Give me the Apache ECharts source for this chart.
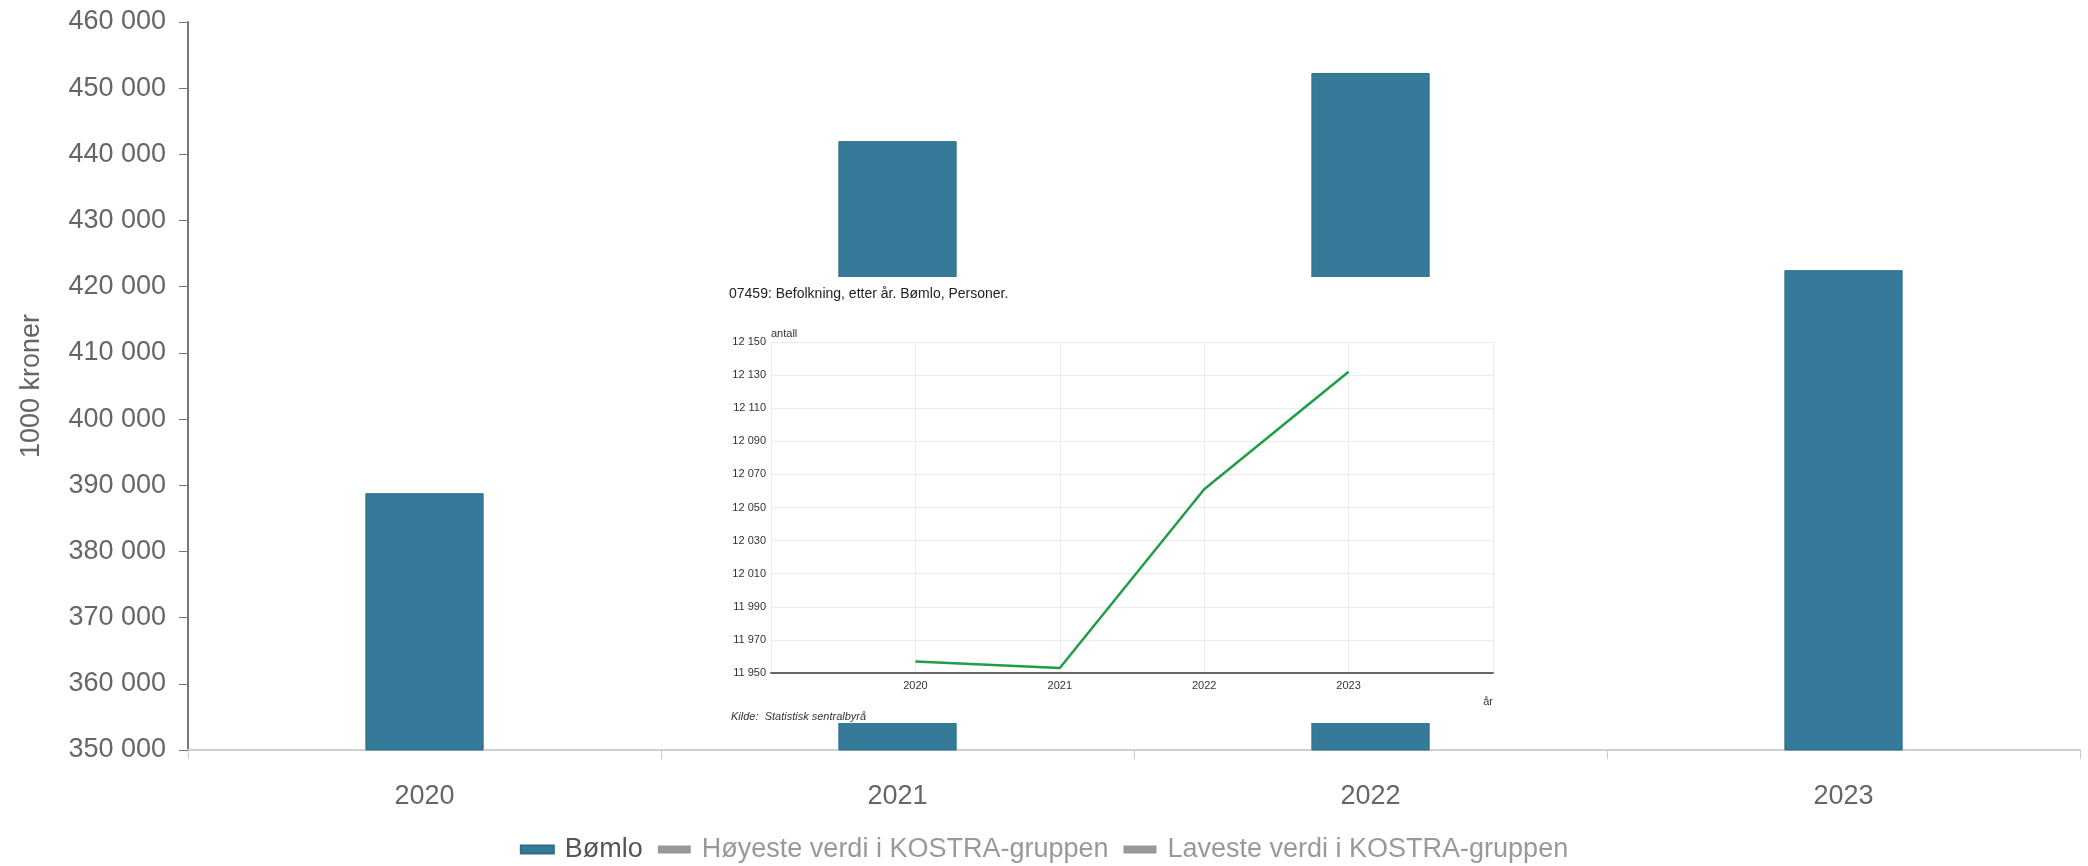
<!DOCTYPE html>
<html>
<head>
<meta charset="utf-8">
<script src="https://cdn.jsdelivr.net/npm/echarts@6/dist/echarts.min.js"></script>
<style>
html,body{margin:0;padding:0;background:#fff;}
#chart{width:2088px;height:866px;}
</style>
</head>
<body>
<div id="chart"></div>
<script>
// Main chart data
const categories = ['2020', '2021', '2022', '2023'];
const bomloValues = [388800, 442000, 452300, 422500];
const hoyesteValues = [];
const lavesteValues = [];
const seriesNames = ['Bømlo', 'Høyeste verdi i KOSTRA-gruppen', 'Laveste verdi i KOSTRA-gruppen'];
const yAxisTitle = '1000 kroner';

// Inset chart data (07459: Befolkning)
const insetTitle = '07459: Befolkning, etter år. Bømlo, Personer.';
const insetYears = [2020, 2021, 2022, 2023];
const insetPopulation = [11957, 11953, 12061, 12132];
const insetSource = 'Kilde:  Statistisk sentralbyrå';

const fmt = v => String(v).replace(/\B(?=(\d{3})+(?!\d))/g, ' ');
const FONT = '"Liberation Sans", Arial, sans-serif';

const chart = echarts.init(document.getElementById('chart'), null, {renderer: 'canvas'});

const option = {
  animation: false,
  backgroundColor: '#ffffff',
  textStyle: {fontFamily: FONT},
  title: [
    {text: insetTitle, left: 724, top: 282, z: 20,
     textStyle: {fontFamily: FONT, fontSize: 14, fontWeight: 'normal', color: '#222'}},
    {text: insetSource, left: 726, top: 706, z: 20,
     textStyle: {fontFamily: FONT, fontSize: 11, fontWeight: 'normal', fontStyle: 'italic', color: '#333'}}
  ],
  legend: {
    data: [
      {name: seriesNames[0], textStyle: {color: '#555'}},
      {name: seriesNames[1], textStyle: {color: '#999'}},
      {name: seriesNames[2], textStyle: {color: '#999'}}
    ],
    left: 'center',
    top: 831,
    icon: 'rect',
    itemWidth: 33,
    itemHeight: 8,
    itemGap: 15,
    selectedMode: false,
    textStyle: {fontFamily: FONT, fontSize: 27, padding: [0, 0, 0, 6]}
  },
  grid: [
    {left: 188, right: 8, top: 22, bottom: 116, containLabel: false},
    {left: 771, top: 342, width: 722, height: 331, containLabel: false, z: 20}
  ],
  xAxis: [
    {
      type: 'category', gridIndex: 0, data: categories, boundaryGap: true,
      axisLine: {show: true, lineStyle: {color: '#d0d0d0', width: 2}},
      axisTick: {show: true, length: 9, lineStyle: {color: '#c8c8c8'}},
      axisLabel: {fontFamily: FONT, fontSize: 27, color: '#666', margin: 33},
      splitLine: {show: false}
    },
    {
      type: 'value', gridIndex: 1, min: 2019, max: 2024, interval: 1, z: 20,
      axisLine: {show: true, onZero: false, lineStyle: {color: '#666', width: 2}},
      axisTick: {show: false},
      axisLabel: {fontFamily: FONT, fontSize: 11, color: '#333', margin: 7,
        formatter: v => (insetYears.indexOf(v) >= 0 ? String(v) : '')},
      splitLine: {show: true, lineStyle: {color: '#e9eded', width: 1}}
    }
  ],
  yAxis: [
    {
      type: 'value', gridIndex: 0, min: 350000, max: 460000, interval: 10000,
      name: yAxisTitle, nameLocation: 'middle', nameGap: 143,
      nameTextStyle: {fontFamily: FONT, fontSize: 27, color: '#666'},
      axisLine: {show: true, lineStyle: {color: '#777', width: 2}},
      axisTick: {show: true, length: 9, lineStyle: {color: '#777'}},
      axisLabel: {fontFamily: FONT, fontSize: 27, color: '#666', margin: 22, formatter: fmt},
      splitLine: {show: false}
    },
    {
      type: 'value', gridIndex: 1, min: 11950, max: 12150, interval: 20, z: 20,
      name: 'antall', nameLocation: 'end', nameGap: 3,
      nameTextStyle: {fontFamily: FONT, fontSize: 11, color: '#333', align: 'left', verticalAlign: 'bottom'},
      axisLine: {show: false},
      axisTick: {show: false},
      axisLabel: {fontFamily: FONT, fontSize: 11, color: '#333', margin: 5, formatter: fmt},
      splitLine: {show: true, lineStyle: {color: '#e9eded', width: 1}}
    }
  ],
  graphic: [
    {type: 'rect', z: 10, silent: true,
     shape: {x: 700, y: 277, width: 800, height: 446},
     style: {fill: '#ffffff'}},
    {type: 'text', z: 30, silent: true, x: 1493, y: 702,
     style: {text: 'år', fontFamily: FONT, fontSize: 11, fill: '#333', align: 'right', verticalAlign: 'middle'}}
  ],
  series: [
    {
      name: seriesNames[0], type: 'bar', xAxisIndex: 0, yAxisIndex: 0,
      data: bomloValues, barWidth: '25%', z: 2,
      itemStyle: {color: '#357a99', borderColor: '#2f6c88', borderWidth: 1}
    },
    {
      name: seriesNames[1], type: 'line', xAxisIndex: 0, yAxisIndex: 0,
      data: hoyesteValues, color: '#999', itemStyle: {color: '#999'}
    },
    {
      name: seriesNames[2], type: 'line', xAxisIndex: 0, yAxisIndex: 0,
      data: lavesteValues, color: '#999', itemStyle: {color: '#999'}
    },
    {
      name: 'Befolkning', type: 'line', xAxisIndex: 1, yAxisIndex: 1, z: 25,
      data: insetYears.map((y, i) => [y, insetPopulation[i]]),
      showSymbol: false, symbol: 'none',
      lineStyle: {color: '#1f9e47', width: 2.5},
      itemStyle: {color: '#1f9e47'}
    }
  ]
};

chart.setOption(option);
</script>
</body>
</html>
